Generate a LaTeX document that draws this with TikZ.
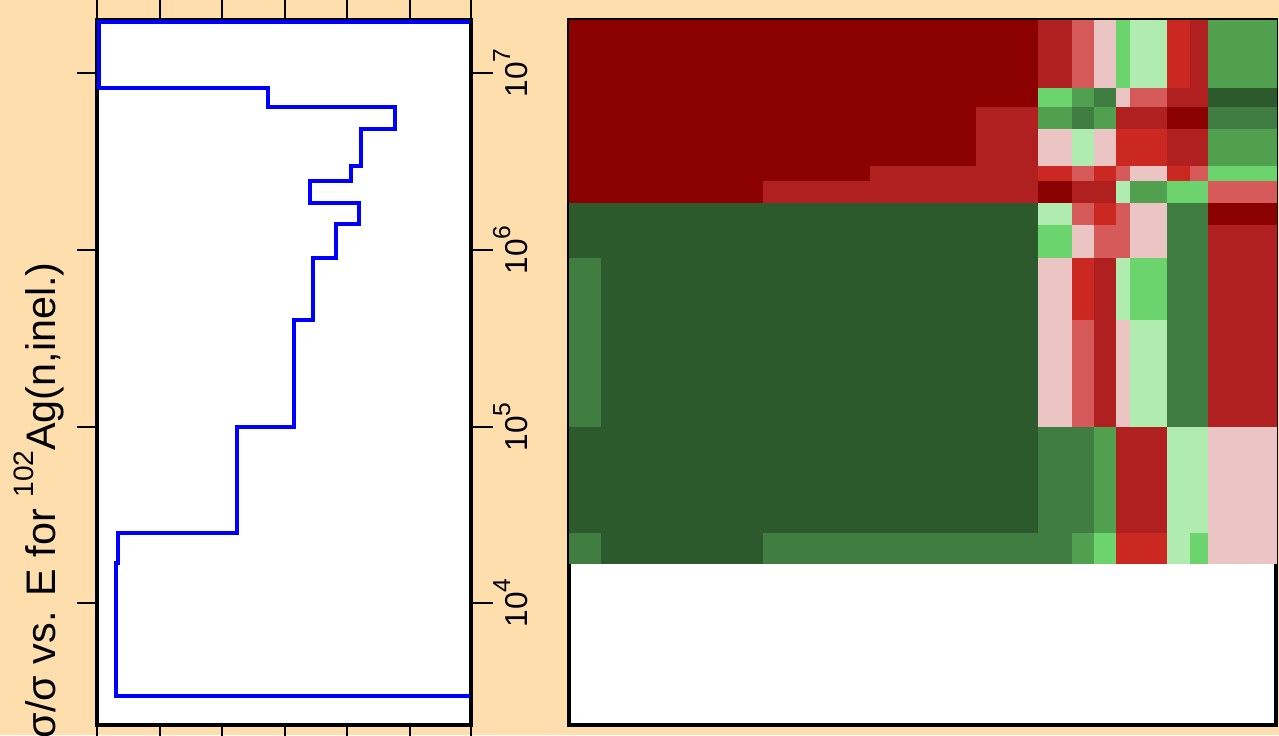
\documentclass[tikz,border=0pt]{standalone}
\usepackage{fontspec}
\setmainfont{Liberation Sans}
\usepackage{tikz}
\usepackage{xcolor}
\definecolor{bgcol}{HTML}{FFDEAD}
\definecolor{hmDR}{HTML}{8B0000}
\definecolor{hmFB}{HTML}{B02020}
\definecolor{hmRD}{HTML}{CA2820}
\definecolor{hmLR}{HTML}{D65A5A}
\definecolor{hmPK}{HTML}{EBC4C4}
\definecolor{hmPG}{HTML}{B0EBB0}
\definecolor{hmLG}{HTML}{6CD46C}
\definecolor{hmGR}{HTML}{50A050}
\definecolor{hmMG}{HTML}{407D40}
\definecolor{hmDG}{HTML}{2D5A2D}
\newcommand{\tpow}[1]{10\raisebox{0.53em}{\fontsize{14}{14}\selectfont #1}}
\def\hmx{{569,601,763,870,976,1038,1072,1094,1116,1130,1167,1190,1208,1276}}
\def\hmy{{20,88,107,129,166,181,203,225,258,320,427,533,563}}

\begin{document}
\begin{tikzpicture}[line cap=butt,line join=miter,x=0.2mm,y=-0.2mm]
                \useasboundingbox (0,0) rectangle (1279,735);
                \clip (0,0) rectangle (1279,735);
                \fill [bgcol] (0,0) rectangle (1279,735);
                % left panel
                \fill [white] (97,20) rectangle (471,725);
                \foreach \x in {97,160,222,285,347,410,471} {
                    \draw [line width=1.2pt] (\x,-5)-- (\x,20);
                    \draw [line width=1.2pt] (\x,725)-- (\x,745);
                }
                \foreach \y in {73,250,427,603} {
                    \draw [line width=1.4pt] (77,\y)-- (97,\y);
                    \draw [line width=1.4pt] (471,\y)-- (493,\y);
                }
                \draw [line width=2.4pt] (97,20) rectangle (471,725);
                \draw [blue,line width=2.3pt] (470,22)-- (99,22)-- (99,88)-- (268,88)-- (268,107)-- (395,107)-- (395,129)-- (361,129)-- (361,166)-- (351,166)-- (351,181)-- (310,181)-- (310,203)-- (359,203)-- (359,224)-- (336,224)-- (336,258)-- (313,258)-- (313,320)-- (294,320)-- (294,427)-- (237,427)-- (237,533)-- (118,533)-- (118,563)-- (116,563)-- (116,696)-- (470,696);
                \begin{scope}[font=\fontsize{18}{18}\selectfont]
                    \node [rotate=90,anchor=base] (lab7) at (527,73) {\tpow{7}};
                    \node [rotate=90,anchor=base] (lab6) at (527,250) {\tpow{6}};
                    \node [rotate=90,anchor=base] (lab5) at (527,427) {\tpow{5}};
                    \node [rotate=90,anchor=base] (lab4) at (527,603) {\tpow{4}};
                \end{scope}
                \node [rotate=90,anchor=base east,inner sep=0pt,font=\fontsize{23.5}{28}\selectfont] (ylab) at (55,262) {δσ/σ vs. E for \raisebox{0.52em}{\fontsize{16}{16}\selectfont 102}Ag(n,inel.)};
                % right panel
                \fill [white] (569,20) rectangle (1276,725);
                \draw [line width=2.6pt] (569,20) rectangle (1276,725);
                \foreach \r/\cl in {
                    0/{DR,DR,DR,DR,DR,FB,LR,PK,LG,PG,RD,FB,GR},
                    1/{DR,DR,DR,DR,DR,LG,GR,MG,PK,LR,FB,FB,DG},
                    2/{DR,DR,DR,DR,FB,GR,MG,GR,FB,FB,DR,DR,MG},
                    3/{DR,DR,DR,DR,FB,PK,PG,PK,RD,RD,FB,FB,GR},
                    4/{DR,DR,DR,FB,FB,RD,LR,RD,LR,PK,RD,LR,LG},
                    5/{DR,DR,FB,FB,FB,DR,FB,FB,PG,GR,LG,LG,LR},
                    6/{DG,DG,DG,DG,DG,PG,LR,RD,LR,PK,MG,MG,DR},
                    7/{DG,DG,DG,DG,DG,LG,PK,LR,LR,PK,MG,MG,FB},
                    8/{MG,DG,DG,DG,DG,PK,RD,FB,PG,LG,MG,MG,FB},
                    9/{MG,DG,DG,DG,DG,PK,LR,FB,PK,PG,MG,MG,FB},
                    10/{DG,DG,DG,DG,DG,MG,MG,GR,FB,FB,PG,PG,PK},
                    11/{MG,DG,MG,MG,MG,MG,GR,LG,RD,RD,PG,LG,PK}} {
                    \foreach \c [count=\i] in \cl {
                        \pgfmathsetmacro{\xa}{\hmx[\i-1]}
                        \pgfmathsetmacro{\xb}{\hmx[\i]}
                        \pgfmathsetmacro{\ya}{\hmy[\r]}
                        \pgfmathsetmacro{\yb}{\hmy[\r+1]}
                        \fill [hm\c,draw=hm\c,line width=0.2pt] (\xa,\ya) rectangle (\xb,\yb);
                    }
                }
            \end{tikzpicture}
\end{document}
